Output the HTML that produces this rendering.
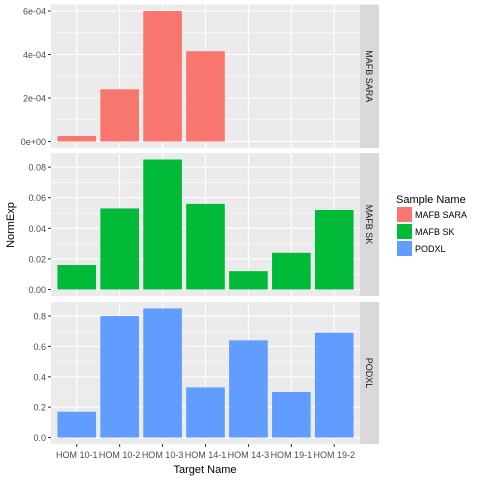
<!DOCTYPE html>
<html><head><meta charset="utf-8"><style>
body{margin:0;background:#fff}
svg{font-family:"Liberation Sans",Arial,sans-serif}
</style></head><body>
<svg id="c" width="480" height="480" viewBox="0 0 480 480"></svg>
<script>
const categories=["HOM 10-1","HOM 10-2","HOM 10-3","HOM 14-1","HOM 14-3","HOM 19-1","HOM 19-2"];
const seriesNames=["MAFB SARA","MAFB SK","PODXL"];
const valuesSara=[0.000025,0.00024,0.0006,0.000415,null,null,null];
const valuesSk=[0.016,0.053,0.085,0.056,0.012,0.024,0.052];
const valuesPodxl=[0.17,0.80,0.85,0.33,0.64,0.30,0.69];
const ticksSara=[0,0.0002,0.0004,0.0006];
const tickLabelsSara=["0e+00","2e-04","4e-04","6e-04"];
const ticksSk=[0,0.02,0.04,0.06,0.08];
const tickLabelsSk=["0.00","0.02","0.04","0.06","0.08"];
const ticksPodxl=[0,0.2,0.4,0.6,0.8];
const tickLabelsPodxl=["0.0","0.2","0.4","0.6","0.8"];
const colors=["#F8766D","#00BA38","#619CFF"];

const NS="http://www.w3.org/2000/svg";
const svg=document.getElementById("c");
function mk(t,a,p){const e=document.createElementNS(NS,t);for(const k in a)e.setAttribute(k,a[k]);(p||svg).appendChild(e);return e;}
const X0=51,X1=360;
const n=categories.length;
const unit=(X1-X0)/(n+0.2);
function xc(i){return X0+(i+0.6)*unit;}
const panels=[
 {vals:valuesSara,ticks:ticksSara,labels:tickLabelsSara,top:4.5,bot:148,name:"MAFB SARA"},
 {vals:valuesSk,ticks:ticksSk,labels:tickLabelsSk,top:153,bot:296,name:"MAFB SK"},
 {vals:valuesPodxl,ticks:ticksPodxl,labels:tickLabelsPodxl,top:302,bot:444,name:"PODXL"}
];
panels.forEach((p,pi)=>{
  const vmax=Math.max(...p.vals.filter(v=>v!=null));
  const lo=-vmax*0.05,hi=vmax*1.05;
  const y=v=>p.bot-(v-lo)/(hi-lo)*(p.bot-p.top);
  const g=mk("g",{});
  
  
  mk("rect",{x:X0,y:p.top,width:X1-X0,height:p.bot-p.top,fill:"#EBEBEB"},g);
  const step=p.ticks[1]-p.ticks[0];
  for(let k=0;k<p.ticks.length;k++){
    const m=p.ticks[k]+step/2;
    if(m<hi) mk("line",{x1:X0,x2:X1,y1:y(m),y2:y(m),stroke:"#fff","stroke-width":0.55},g);
  }
  p.ticks.forEach((t,k)=>{
    mk("line",{x1:X0,x2:X1,y1:y(t),y2:y(t),stroke:"#fff","stroke-width":1.1},g);
    mk("line",{x1:X0-3,x2:X0,y1:y(t),y2:y(t),stroke:"#333","stroke-width":1},g);
    const tl=mk("text",{x:X0-5,y:y(t)+3.5,"text-anchor":"end","font-size":"9px",fill:"#4D4D4D"},g);
    
    
    tl.textContent=p.labels[k];
  });
  categories.forEach((c,i)=>mk("line",{x1:xc(i),x2:xc(i),y1:p.top,y2:p.bot,stroke:"#fff","stroke-width":1.1},g));
  p.vals.forEach((v,i)=>{
    if(v==null)return;
    const r=mk("rect",{x:xc(i)-unit*0.45,width:unit*0.9,y:y(v),height:y(0)-y(v),fill:colors[pi]},g);
    
    
  });
  mk("rect",{x:X1,y:p.top,width:19,height:p.bot-p.top,fill:"#D9D9D9"},g);
  const cy=(p.top+p.bot)/2;
  const st=mk("text",{x:366,y:cy,"text-anchor":"middle","font-size":"9px",fill:"#1A1A1A",transform:`rotate(90 366 ${cy})`},g);
  
  
  st.textContent=p.name;
});
categories.forEach((c,i)=>{
  mk("line",{x1:xc(i),x2:xc(i),y1:444,y2:447,stroke:"#333"});
  const t=mk("text",{x:xc(i),y:458,"text-anchor":"middle","font-size":"9px",fill:"#4D4D4D"});
  
  
  t.textContent=c;
});
const xt=mk("text",{x:205,y:473,"text-anchor":"middle","font-size":"11px",fill:"#000"});


xt.textContent="Target Name";
const yt=mk("text",{x:14,y:225,"text-anchor":"middle","font-size":"11px",fill:"#000",transform:"rotate(-90 14 225)"});


yt.textContent="NormExp";
const lt=mk("text",{x:396,y:203,"font-size":"11px",fill:"#000"});


lt.textContent="Sample Name";
seriesNames.forEach((s,i)=>{
  const yy=207+i*17;
  const k=mk("rect",{x:397,y:yy,width:15,height:15,fill:colors[i]});
  
  
  const t=mk("text",{x:415,y:yy+11,"font-size":"9px",fill:"#000"});
  
  
  t.textContent=s;
});
</script>
</body></html>
